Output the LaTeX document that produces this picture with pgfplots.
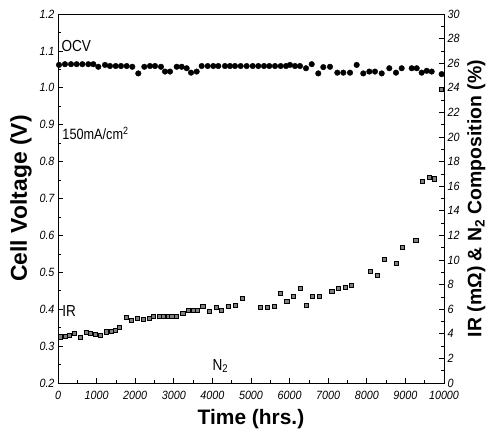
\documentclass[border=0pt]{standalone}
\usepackage{fontspec}
\setmainfont{Liberation Sans}
\newfontfamily\narrowfont[FakeStretch=0.85]{Liberation Sans}
\newfontfamily\ticksfont[FakeStretch=0.9]{Liberation Sans}
\usepackage{pgfplots}
\pgfplotsset{compat=1.18}

\pgfplotsset{
  common/.style={
    scale only axis, width=386bp, height=369bp,
    xmin=0, xmax=10000,
    axis line style={line width=0.9pt},
    major tick length=5bp, minor tick length=3bp,
    every tick/.style={black, line width=0.7pt},
    tick label style={font=\ticksfont\fontsize{12}{12}\selectfont\itshape},
    label style={font=\fontsize{21}{21}\selectfont\bfseries},
    /pgf/number format/assume math mode=true,
  },
}

\begin{document}
\begin{tikzpicture}
\path[use as bounding box] (-58bp,-60bp) rectangle (432bp,383bp);

% left axis: cell voltage (OCV)
\begin{axis}[common,
  ymin=0.2, ymax=1.2,
  ytick={0.2,0.3,...,1.21}, minor y tick num=1,
  xtick={0,1000,...,10000}, minor x tick num=1,
  xtick pos=bottom, ytick pos=left,
  yticklabel style={/pgf/number format/.cd, fixed, fixed zerofill, precision=1},
  xticklabel style={yshift=-5bp, /pgf/number format/.cd, set thousands separator={}},
  scaled x ticks=false,
  xlabel={Time (hrs.)}, ylabel={Cell Voltage (V)},
  xlabel style={yshift=-3bp},
  ylabel style={font=\fontsize{23}{23}\selectfont\bfseries, yshift=1bp},
  clip=false,
]
\addplot[only marks, mark=*, mark size=2.8pt, black] coordinates {
 (26,1.062) (181,1.064) (337,1.064) (484,1.064) (630,1.064) (785,1.064)
 (915,1.064) (1044,1.057) (1218,1.062) (1347,1.059) (1495,1.059) (1632,1.059)
 (1780,1.059) (1925,1.057) (2080,1.039) (2236,1.057) (2383,1.059) (2513,1.059)
 (2668,1.057) (2772,1.044) (2902,1.044) (3075,1.057) (3205,1.057) (3334,1.053)
 (3446,1.041) (3593,1.044) (3723,1.059) (3878,1.059) (4023,1.059) (4153,1.059)
 (4326,1.059) (4456,1.059) (4585,1.059) (4733,1.059) (4888,1.059) (5044,1.059)
 (5189,1.059) (5337,1.059) (5474,1.059) (5622,1.059) (5769,1.059) (5907,1.059)
 (6010,1.062) (6140,1.059) (6269,1.059) (6425,1.053) (6573,1.064) (6743,1.039)
 (6873,1.056) (7047,1.057) (7236,1.041) (7391,1.041) (7565,1.041) (7738,1.062)
 (7909,1.039) (8065,1.044) (8212,1.044) (8386,1.039) (8583,1.053) (8756,1.041)
 (8904,1.053) (9163,1.053) (9293,1.053) (9422,1.041) (9552,1.046) (9681,1.044)
 (9940,1.037)
};
\node[anchor=west, font=\narrowfont\fontsize{16}{16}\selectfont, inner sep=0pt] at (axis cs:90,1.113) {OCV};
\node[anchor=west, font=\narrowfont\fontsize{15}{15}\selectfont, inner sep=0pt] at (axis cs:110,0.877) {150mA/cm\textsuperscript{2}};
\node[anchor=west, font=\narrowfont\fontsize{16}{16}\selectfont, inner sep=0pt] at (axis cs:110,0.395) {IR};
\node[anchor=west, font=\narrowfont\fontsize{16}{16}\selectfont, inner sep=0pt] at (axis cs:4000,0.246) {N\textsubscript{2}};
\end{axis}

% right axis: IR and N2 composition
\begin{axis}[common,
  ymin=0, ymax=30,
  ytick={0,2,...,30}, minor y tick num=1,
  axis x line=none, axis y line*=right, ytick pos=right,
  ylabel={IR (mΩ) \& N\textsubscript{2} Composition (\%)},
  ylabel style={font=\fontsize{19.5}{19.5}\selectfont\bfseries, yshift=-1bp},
]
\addplot[only marks, mark=square*, mark size=2.1pt,
  mark options={fill=gray, draw=black, line width=0.6pt}] coordinates {
 (52,3.76) (181,3.79) (285,3.85) (415,4.05) (570,3.71) (725,4.09)
 (847,4.04) (959,3.96) (1088,3.90) (1244,4.17) (1373,4.23) (1477,4.31)
 (1588,4.53) (1762,5.34) (1909,5.12) (2054,5.26) (2210,5.20) (2365,5.26)
 (2469,5.39) (2624,5.45) (2728,5.39) (2858,5.39) (2946,5.39) (3075,5.39)
 (3231,5.66) (3376,5.93) (3505,5.93) (3601,5.93) (3749,6.26) (3920,5.80)
 (4093,6.15) (4241,5.88) (4412,6.26) (4585,6.34) (4785,6.89)
 (5233,6.15) (5422,6.15) (5596,6.26) (5769,7.29) (5925,6.67) (6096,7.02)
 (6269,7.70) (6443,6.30) (6598,7.07) (6762,7.07) (7091,7.45) (7262,7.70)
 (7435,7.80) (7591,7.95) (8101,9.08) (8272,8.75) (8446,10.07) (8756,9.70)
 (8930,11.04) (9267,11.62) (9448,16.4) (9619,16.7) (9741,16.6) (9922,23.9)
};
\end{axis}
\end{tikzpicture}
\end{document}
